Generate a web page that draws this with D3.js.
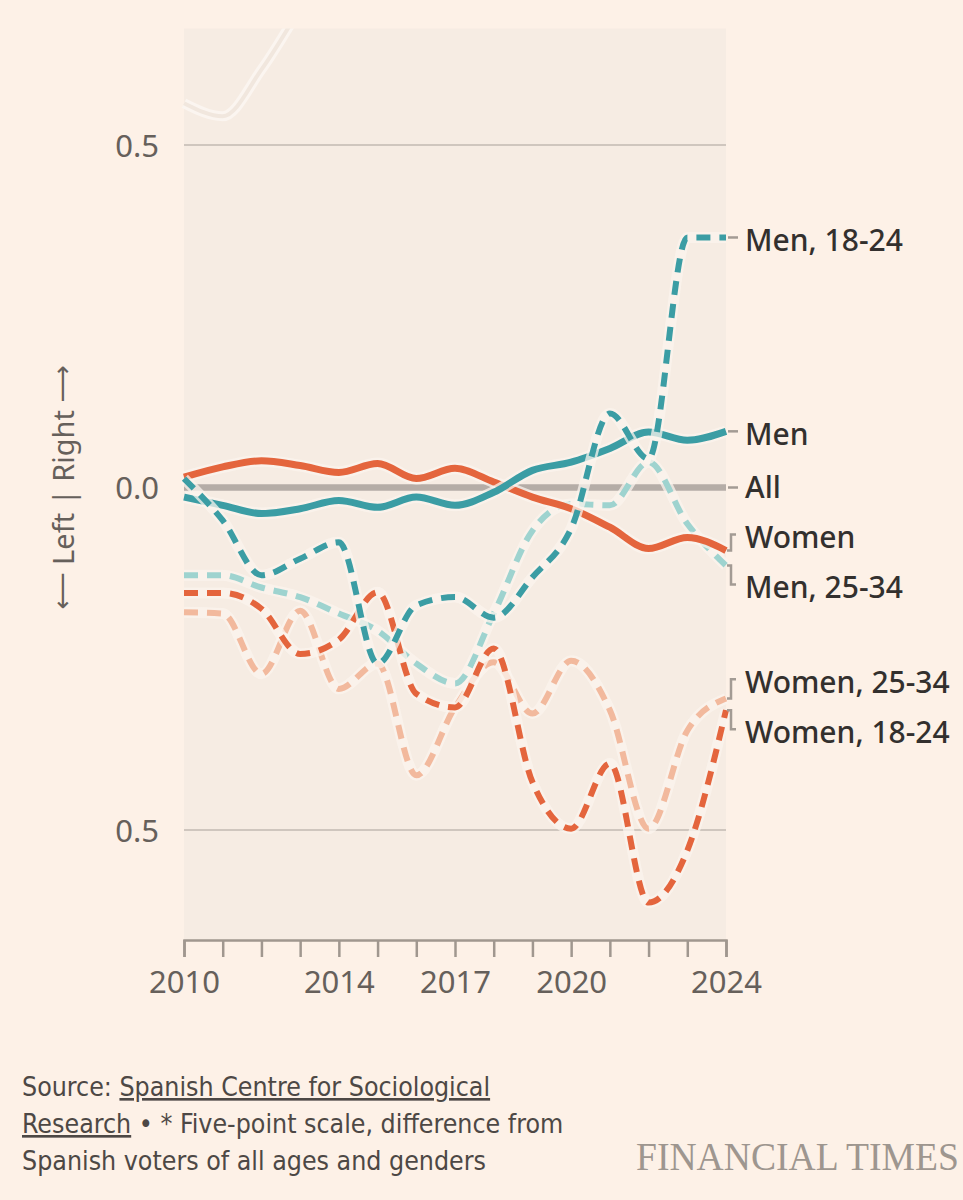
<!DOCTYPE html>
<html>
<head>
<meta charset="utf-8">
<script src="https://cdn.jsdelivr.net/npm/d3@7"></script>
<style>
  html, body { margin: 0; padding: 0; background: #fdf1e7; }
  svg { display: block; }
</style>
</head>
<body>
<div id="chart"></div>
<script>
// Anni e serie (differenza dal totale degli elettori)
const years = [2010, 2011, 2012, 2013, 2014, 2015, 2016, 2017, 2018, 2019, 2020, 2021, 2022, 2023, 2024];
const labeledYears = [2010, 2014, 2017, 2020, 2024];
const yTicks = [-0.5, 0, 0.5];

const allVoters = [0, 0, 0, 0, 0, 0, 0, 0, 0, 0, 0, 0, 0, 0, 0];
const men = [-0.014, -0.026, -0.038, -0.031, -0.019, -0.029, -0.014, -0.026, -0.007, 0.025, 0.037, 0.057, 0.081, 0.069, 0.082];
const women = [0.015, 0.030, 0.039, 0.032, 0.022, 0.035, 0.013, 0.028, 0.008, -0.014, -0.031, -0.058, -0.089, -0.073, -0.092];
const men1824 = [0.013, -0.048, -0.128, -0.104, -0.080, -0.257, -0.172, -0.160, -0.190, -0.131, -0.060, 0.108, 0.042, 0.365, 0.365];
const men2534 = [-0.128, -0.128, -0.146, -0.160, -0.184, -0.209, -0.257, -0.286, -0.184, -0.063, -0.024, -0.026, 0.037, -0.053, -0.114];
const women1824 = [-0.154, -0.154, -0.177, -0.243, -0.222, -0.153, -0.301, -0.321, -0.235, -0.430, -0.498, -0.403, -0.606, -0.530, -0.325];
const women2534 = [-0.182, -0.184, -0.272, -0.180, -0.294, -0.257, -0.420, -0.321, -0.255, -0.330, -0.253, -0.325, -0.498, -0.355, -0.308];
// linea fantasma in alto a sinistra (esce dal grafico)
const ghostYears = [2010, 2011, 2012, 2013];
const ghost = [0.561, 0.542, 0.610, 0.700];

const W = 963, H = 1200;
const bg = "#fdf1e7";

const svg = d3.select("#chart")
    .append("svg")
    .attr("width", W)
    .attr("height", H)
    .style("background", bg);

// Scale
const x = d3.scaleLinear().domain([2010, 2024]).range([184, 726]);
const y = d3.scaleLinear().domain([-0.5, 0.5]).range([830, 145]);
const plotTop = y(0.67), plotBottom = 940;

// Area del grafico
svg.append("rect")
    .attr("x", x(2010))
    .attr("y", plotTop)
    .attr("width", x(2024) - x(2010))
    .attr("height", plotBottom - plotTop)
    .style("fill", "#f6ece3");

svg.append("clipPath").attr("id", "plotclip")
    .append("rect")
    .attr("x", x(2010) - 4)
    .attr("y", plotTop)
    .attr("width", x(2024) - x(2010) + 8)
    .attr("height", plotBottom - plotTop);

// Griglia
svg.append("g")
    .selectAll("line")
    .data([-0.5, 0.5])
    .join("line")
    .attr("x1", x(2010)).attr("x2", x(2024))
    .attr("y1", d => y(d)).attr("y2", d => y(d))
    .style("stroke", "#cfc6be")
    .style("stroke-width", 2);

// Asse y
const yAxis = svg.append("g")
    .attr("transform", `translate(${x(2010) - 22},0)`)
    .call(d3.axisLeft(y).tickValues(yTicks).tickSize(0).tickFormat(d => Math.abs(d).toFixed(1)));
yAxis.select(".domain").remove();
yAxis.selectAll("text")
    .attr("dy", "0.36em")
    .style("font-family", "'Noto Sans', sans-serif")
    .style("font-size", "31px")
    .style("fill", "#66605b");

const yTitle = svg.append("text")
    .attr("transform", `translate(62,${y(0)}) rotate(-90)`)
    .attr("text-anchor", "middle")
    .attr("dominant-baseline", "central")
    .style("font-family", "'Noto Sans', sans-serif")
    .style("font-size", "29px")
    .style("fill", "#66605b");
yTitle.append("tspan").text("\u27F5").style("font-family", "'DejaVu Sans', sans-serif").style("font-size", "26px");
yTitle.append("tspan").text(" Left | Right ");
yTitle.append("tspan").text("\u27F6").style("font-family", "'DejaVu Sans', sans-serif").style("font-size", "26px");

// Asse x
const xAxis = svg.append("g")
    .attr("transform", `translate(0,${plotBottom})`)
    .call(d3.axisBottom(x).tickValues(years).tickSize(17).tickSizeOuter(17)
        .tickFormat(d => labeledYears.includes(d) ? d : ""));
xAxis.select(".domain").style("stroke", "#a0978f").style("stroke-width", 2.5);
xAxis.selectAll(".tick line").style("stroke", "#a0978f").style("stroke-width", 2.5);
xAxis.selectAll("text")
    .attr("y", 25)
    .attr("dy", "0.9em")
    .style("font-family", "'Noto Sans', sans-serif")
    .style("font-size", "31px")
    .style("fill", "#66605b");

// Serie
const dash = "14,9";
const series = [
    { name: "All", values: allVoters, color: "#b5ada7", width: 6.5, dash: null },
    { name: "Women, 25-34", values: women2534, color: "#f2b99d", width: 6, dash: dash },
    { name: "Men, 25-34", values: men2534, color: "#9ed3cf", width: 6, dash: dash },
    { name: "Women", values: women, color: "#e4653d", width: 7, dash: null },
    { name: "Men", values: men, color: "#3b9da4", width: 7, dash: null },
    { name: "Women, 18-24", values: women1824, color: "#e4653d", width: 6, dash: dash },
    { name: "Men, 18-24", values: men1824, color: "#3b9da4", width: 6, dash: dash }
];

const line = d3.line()
    .x((d, i) => x(years[i]))
    .y(d => y(d))
    .curve(d3.curveMonotoneX);

const lines = svg.append("g").attr("clip-path", "url(#plotclip)");

// linea fantasma
const ghostLine = d3.line()
    .x((d, i) => x(ghostYears[i]))
    .y(d => y(d))
    .curve(d3.curveMonotoneX);
lines.append("path")
    .attr("d", ghostLine(ghost))
    .style("fill", "none")
    .style("stroke", "#fbf5f0")
    .style("stroke-width", 10);
lines.append("path")
    .attr("d", ghostLine(ghost))
    .style("fill", "none")
    .style("stroke", "#f1e7de")
    .style("stroke-width", 4);

series.forEach(function (s) {
    if (s.name !== "All") {
        lines.append("path")
            .attr("d", line(s.values))
            .style("fill", "none")
            .style("stroke", "#fbf4ee")
            .style("stroke-opacity", 0.75)
            .style("stroke-width", s.width + 5);
    }
    lines.append("path")
        .attr("d", line(s.values))
        .style("fill", "none")
        .style("stroke", s.color)
        .style("stroke-width", s.width)
        .style("stroke-dasharray", s.dash);
});

// Etichette con spostamento anti-sovrapposizione
const gap = 50;
let labels = series.map(s => ({ name: s.name, target: y(s.values[s.values.length - 1]) }))
    .sort((a, b) => a.target - b.target);
let groups = labels.map(l => ({ items: [l], pos: l.target }));
let moved = true;
while (moved) {
    moved = false;
    groups.forEach(g => {
        const mean = d3.mean(g.items, d => d.target);
        g.pos = mean - (g.items.length - 1) * gap / 2;
    });
    for (let i = 1; i < groups.length; i++) {
        const prev = groups[i - 1];
        const prevEnd = prev.pos + (prev.items.length - 1) * gap;
        if (groups[i].pos - prevEnd < gap) {
            prev.items = prev.items.concat(groups[i].items);
            groups.splice(i, 1);
            moved = true;
            break;
        }
    }
}
groups.forEach(g => g.items.forEach((l, k) => l.y = g.pos + k * gap + 2));

const xEnd = x(2024);
svg.append("g")
    .selectAll("path")
    .data(labels)
    .join("path")
    .attr("d", d => Math.abs(d.y - d.target) < 5
        ? `M${xEnd + 2},${d.target}H${xEnd + 12}`
        : `M${xEnd + 1},${d.target}H${xEnd + 5}V${d.y - 2}H${xEnd + 10}`)
    .style("fill", "none")
    .style("stroke", "#a39b94")
    .style("stroke-width", 2.5);

svg.append("g")
    .selectAll("text")
    .data(labels)
    .join("text")
    .attr("x", xEnd + 19)
    .attr("y", d => d.y)
    .attr("dominant-baseline", "central")
    .text(d => d.name)
    .style("font-family", "'Noto Sans', sans-serif")
    .style("font-size", "30px")
    .style("font-weight", 500)
    .style("fill", "#33302e");

// Fonte
const note = svg.append("g")
    .style("font-family", "'Liberation Sans Narrow', 'DejaVu Sans Condensed', 'Roboto', sans-serif")
    .style("font-size", "26.5px")
    .style("fill", "#4d4845");

const l1 = note.append("text").attr("x", 22).attr("y", 1096);
l1.append("tspan").text("Source: ");
l1.append("tspan").text("Spanish Centre for Sociological").style("text-decoration", "underline");
const l2 = note.append("text").attr("x", 22).attr("y", 1133);
l2.append("tspan").text("Research").style("text-decoration", "underline");
l2.append("tspan").text(" \u2022 * Five-point scale, difference from");
note.append("text").attr("x", 22).attr("y", 1170)
    .text("Spanish voters of all ages and genders");

// Marchio FT
svg.append("text")
    .attr("transform", "translate(636,1170) scale(1.14,1.23)")
    .text("FINANCIAL TIMES")
    .style("font-family", "'Liberation Serif', serif")
    .style("font-size", "33px")
    .style("fill", "#9e968f");
</script>
</body>
</html>
